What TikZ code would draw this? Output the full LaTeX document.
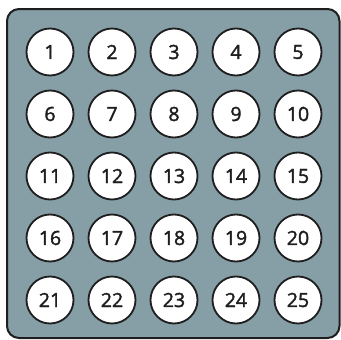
\documentclass[tikz,border=0pt]{standalone}
\usepackage{fontspec}
\setmainfont{Open Sans}
\newfontfamily\numfont[FakeBold=1.8]{Open Sans}
\definecolor{panel}{RGB}{134,158,166}
\definecolor{edge}{RGB}{30,30,30}
\begin{document}
\begin{tikzpicture}[x=1pt,y=-1pt,
  well/.style={circle,draw=edge,line width=1.8pt,fill=white,minimum size=47pt,inner sep=0pt,text=edge,font=\numfont\fontsize{19.5}{22}\selectfont},
  frame/.style={draw=edge,line width=2pt,fill=panel,rounded corners=12pt}]
\useasboundingbox (0,0) rectangle (341,340);
\draw[frame] (7,9) rectangle (339.5,338);
\foreach \r in {0,...,4}{
  \foreach \c in {0,...,4}{
    \pgfmathtruncatemacro{\n}{\r*5+\c+1}
    \node[well] (w\n) at (50+62*\c,52+62*\r) {\n};
  }
}
\end{tikzpicture}
\end{document}
